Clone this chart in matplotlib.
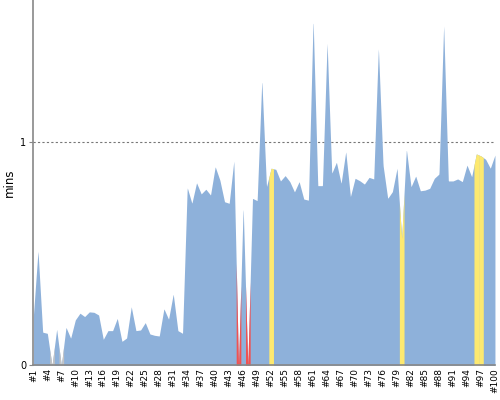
import numpy as np
import matplotlib
import matplotlib.pyplot as plt

matplotlib.use("Agg")

# Minuten je Lauf (#1 .. #100)
values = [
    0.22, 0.514, 0.149, 0.144, 0.0, 0.162, 0.0, 0.171, 0.122, 0.204,
    0.234, 0.219, 0.24, 0.238, 0.226, 0.117, 0.156, 0.156, 0.211, 0.108,
    0.123, 0.263, 0.156, 0.159, 0.192, 0.141, 0.135, 0.132, 0.254, 0.207,
    0.32, 0.156, 0.144, 0.797, 0.726, 0.818, 0.768, 0.789, 0.763, 0.89,
    0.83, 0.733, 0.726, 0.917, 0.0, 0.711, 0.0, 0.748, 0.738, 1.278,
    0.80, 0.883, 0.878, 0.826, 0.85, 0.823, 0.777, 0.823, 0.745, 0.74,
    1.55, 0.805, 0.805, 1.445, 0.86, 0.91, 0.815, 0.957, 0.756, 0.838,
    0.827, 0.812, 0.842, 0.835, 1.423, 0.897, 0.748, 0.778, 0.883, 0.57,
    0.968, 0.80, 0.848, 0.782, 0.785, 0.793, 0.838, 0.857, 1.524, 0.826,
    0.826, 0.835, 0.823, 0.897, 0.845, 0.947, 0.938, 0.923, 0.883, 0.942,
]
runs = np.arange(1, len(values) + 1)
tick_labels = [f"#{n}" for n in runs[::3]]

# Läufe mit Sonderstatus
grey_runs = [5, 7]
red_runs = [45, 47]
yellow_runs = [52, 80, 96, 97]

BLUE = "#8eb1da"
GREY = "#c4c4c4"
RED = "#f05252"
YELLOW = "#fde970"

fig = plt.figure(figsize=(5, 4), dpi=100)
ax = fig.add_axes([0.0667, 0.0863, 0.9233, 0.9137])

vals = np.array(values)
xs = np.linspace(1, len(values), 2000)
ax.fill_between(xs, 0, np.interp(xs, runs, vals), color=BLUE, lw=0)


def band(run, color):
    bx = np.linspace(run - 0.5, run + 0.5, 41)
    bx = bx[(bx >= 1) & (bx <= len(values))]
    ax.fill_between(bx, 0, np.interp(bx, runs, vals), color=color, lw=0)


for r in grey_runs:
    band(r, GREY)
for r in red_runs:
    band(r, RED)
for r in yellow_runs:
    band(r, YELLOW)

ax.set_xlim(1, len(values) + 0.01)
ax.set_ylim(0, 1.636)
ax.axhline(1, color="#777777", lw=0.8, ls=(0, (2, 2)), zorder=0)

ax.set_xticks(runs[::3])
ax.set_xticklabels(tick_labels, rotation=90, fontsize=6.5)
ax.tick_params(axis="x", length=0, pad=2)
ax.set_yticks([0, 1])
ax.set_yticklabels(["0", "1"], fontsize=7)
ax.tick_params(axis="y", length=3, color="#888888", pad=2)
ax.set_ylabel("mins", fontsize=8.5, labelpad=3)

for side in ["top", "right"]:
    ax.spines[side].set_visible(False)
for side in ["left", "bottom"]:
    ax.spines[side].set_color("#888888")
    ax.spines[side].set_linewidth(1.2)

fig.savefig("out.png", dpi=100)
plt.close(fig)
